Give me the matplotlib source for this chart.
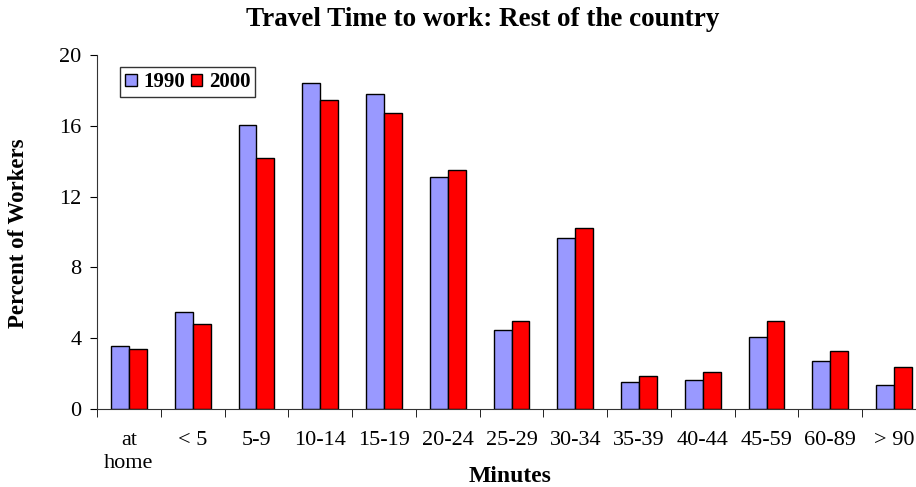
import matplotlib.pyplot as plt
import numpy as np

plt.rcParams['font.family'] = ['Liberation Serif', 'DejaVu Serif']

categories = ['at\nhome', '< 5', '5-9', '10-14', '15-19', '20-24', '25-29',
              '30-34', '35-39', '40-44', '45-59', '60-89', '> 90']
pct_1990 = [3.55, 5.5, 16.05, 18.4, 17.8, 13.1, 4.45, 9.65, 1.5, 1.65, 4.05, 2.7, 1.35]
pct_2000 = [3.4, 4.8, 14.2, 17.45, 16.75, 13.5, 4.95, 10.25, 1.85, 2.1, 4.95, 3.25, 2.4]

fig = plt.figure(figsize=(9.16, 4.87), dpi=100)
ax = fig.add_axes([97 / 916, 1 - 409 / 487, 829 / 916, 354 / 487])

x = np.arange(len(categories))
w = 0.28
ax.bar(x - w / 2, pct_1990, w, color='#9999FF', edgecolor='black', linewidth=1, label='1990')
ax.bar(x + w / 2, pct_2000, w, color='#FF0000', edgecolor='black', linewidth=1, label='2000')

ax.set_xlim(-0.5, len(categories) - 0.5)
ax.set_ylim(0, 20)
ax.set_yticks(np.arange(0, 21, 4))
ax.tick_params(axis='y', labelsize=16, length=5, direction='out', pad=6)

# labels under categories, tick marks at the boundaries
ax.set_xticks(x)
ax.set_xticklabels(categories, fontsize=16, linespacing=1.3, va='top')
ax.set_xticks(np.arange(-0.5, len(categories)), minor=True)
ax.tick_params(axis='x', which='major', length=0, pad=15.5)
ax.tick_params(axis='x', which='minor', length=6, direction='out')

for side in ['top', 'right']:
    ax.spines[side].set_visible(False)
ax.spines['left'].set_color('#333333')
ax.spines['bottom'].set_color('#333333')

fig.text(483 / 916, 1 - 19 / 487, 'Travel Time to work: Rest of the country',
         ha='center', va='center', fontsize=19.5, fontweight='bold')
fig.text(510 / 916, 1 - 476 / 487, 'Minutes', ha='center', va='center',
         fontsize=17, fontweight='bold')
fig.text(19 / 916, 1 - 233 / 487, 'Percent of Workers', ha='center', va='center',
         rotation=90, fontsize=16.5, fontweight='bold')

leg = ax.legend(loc='upper left', bbox_to_anchor=(23 / 829, 1 - 12 / 354), ncol=2,
                prop={'weight': 'bold', 'size': 15}, frameon=True, fancybox=False,
                edgecolor='black', handlelength=0.55, handleheight=0.55,
                handletextpad=0.3, columnspacing=0.3, borderpad=0.25, borderaxespad=0)
leg.get_frame().set_linewidth(1)

fig.savefig('out.png', dpi=100)
